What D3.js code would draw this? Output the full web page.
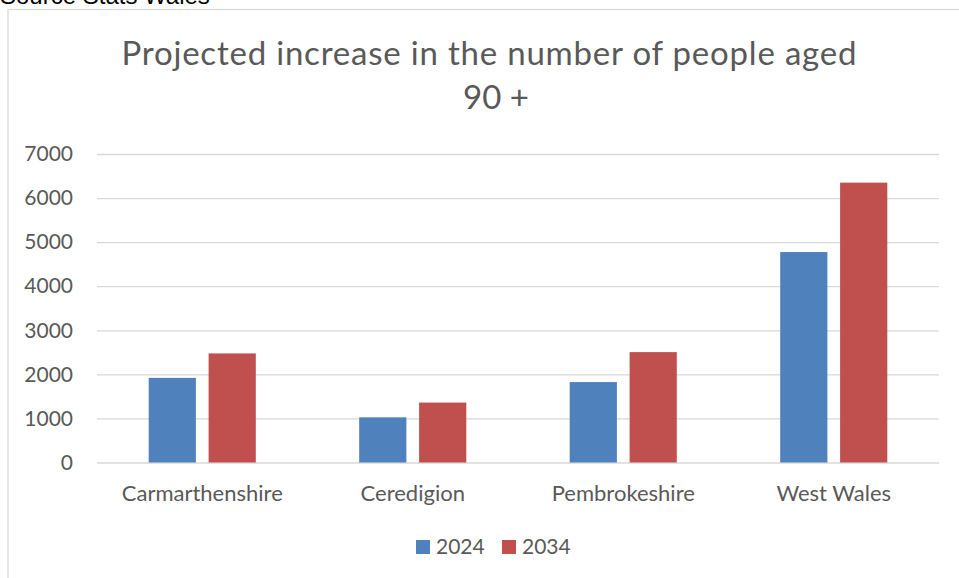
<!DOCTYPE html>
<html>
<head>
<meta charset="utf-8">
<script src="https://cdn.jsdelivr.net/npm/d3@7"></script>
<style>
  body { margin: 0; background: #fff; overflow: hidden; }
  svg { display: block; }
</style>
</head>
<body>
<div id="container"></div>
<script>
/* DATA */
const categories = ["Carmarthenshire", "Ceredigion", "Pembrokeshire", "West Wales"]
const seriesNames = ["2024", "2034"]
const values2024 = [1920, 1025, 1825, 4775]
const values2034 = [2475, 1360, 2505, 6350]
const yTicks = [0, 1000, 2000, 3000, 4000, 5000, 6000, 7000]
const colors = ["#4f81bd", "#c0504d"]

/* CONSTANTS */
const width = 959
const height = 578
const plot = { left: 97, right: 939, top: 154, bottom: 462.5 }
const textColor = "#595959"
const font = "Lato, 'Open Sans', sans-serif"

const data = categories.map((c, i) => ({ cat: c, vals: [values2024[i], values2034[i]] }))

/* SCALES */
const x0 = d3.scaleBand()
  .domain(categories)
  .range([plot.left, plot.right])

const x1 = d3.scaleBand()
  .domain(seriesNames)
  .range([0, x0.bandwidth()])
  .paddingInner(0.212)
  .paddingOuter(0.863)

const y = d3.scaleLinear()
  .domain([0, 7000])
  .range([plot.bottom, plot.top])

/* SVG */
const svg = d3.select("#container")
  .append("svg")
  .attr("width", width)
  .attr("height", height)

// chart frame
svg.append("rect")
  .attr("x", 8).attr("y", 9.5)
  .attr("width", 980).attr("height", 640)
  .attr("fill", "none")
  .attr("stroke", "#d9d9d9")
  .attr("stroke-width", 1.3)

// source note (partly cut off at the top, as in the original)
svg.append("text")
  .attr("x", 0).attr("y", 4)
  .attr("font-family", "'Liberation Sans', Arial, sans-serif")
  .attr("font-size", 24)
  .attr("fill", "#000")
  .text("Source Stats Wales")

// title
const title = svg.append("text")
  .attr("text-anchor", "middle")
  .attr("font-family", font)
  .attr("font-size", 33)
  .attr("fill", textColor)
title.append("tspan").attr("x", 489).attr("y", 65)
  .attr("textLength", 735).attr("lengthAdjust", "spacing")
  .text("Projected increase in the number of people aged")
title.append("tspan").attr("x", 496).attr("y", 109)
  .text("90 +")

// gridlines + y labels
const yAxis = d3.axisLeft(y)
  .tickValues(yTicks)
  .tickFormat(d3.format("d"))
  .tickSize(-(plot.right - plot.left))
  .tickPadding(24)
svg.append("g")
  .attr("transform", `translate(${plot.left},0)`)
  .call(yAxis)
  .call(g => g.select(".domain").remove())
  .call(g => g.selectAll(".tick line").attr("stroke", "#d9d9d9").attr("stroke-width", 1.3))
  .call(g => g.selectAll(".tick text")
    .attr("font-family", font).attr("font-size", 21).attr("fill", textColor))

// bars
svg.append("g")
  .selectAll("g")
  .data(data)
  .join("g")
  .attr("transform", d => `translate(${x0(d.cat)},0)`)
  .selectAll("rect")
  .data(d => d.vals.map((v, i) => ({ key: seriesNames[i], v, i })))
  .join("rect")
  .attr("x", d => x1(d.key))
  .attr("y", d => y(d.v))
  .attr("width", x1.bandwidth())
  .attr("height", d => y(0) - y(d.v))
  .attr("fill", d => colors[d.i])

// category labels
const xAxis = d3.axisBottom(x0).tickSize(0).tickPadding(23)
svg.append("g")
  .attr("transform", `translate(0,${plot.bottom})`)
  .call(xAxis)
  .call(g => g.select(".domain").remove())
  .call(g => g.selectAll(".tick text")
    .attr("font-family", font).attr("font-size", 22).attr("fill", textColor))

// legend
const legend = svg.append("g")
  .selectAll("g")
  .data(seriesNames)
  .join("g")
  .attr("transform", (d, i) => `translate(${416 + i * 86},540)`)
legend.append("rect")
  .attr("width", 14).attr("height", 14)
  .attr("fill", (d, i) => colors[i])
legend.append("text")
  .attr("x", 20).attr("y", 14)
  .attr("font-family", font).attr("font-size", 21).attr("fill", textColor)
  .text(d => d)
</script>
</body>
</html>
